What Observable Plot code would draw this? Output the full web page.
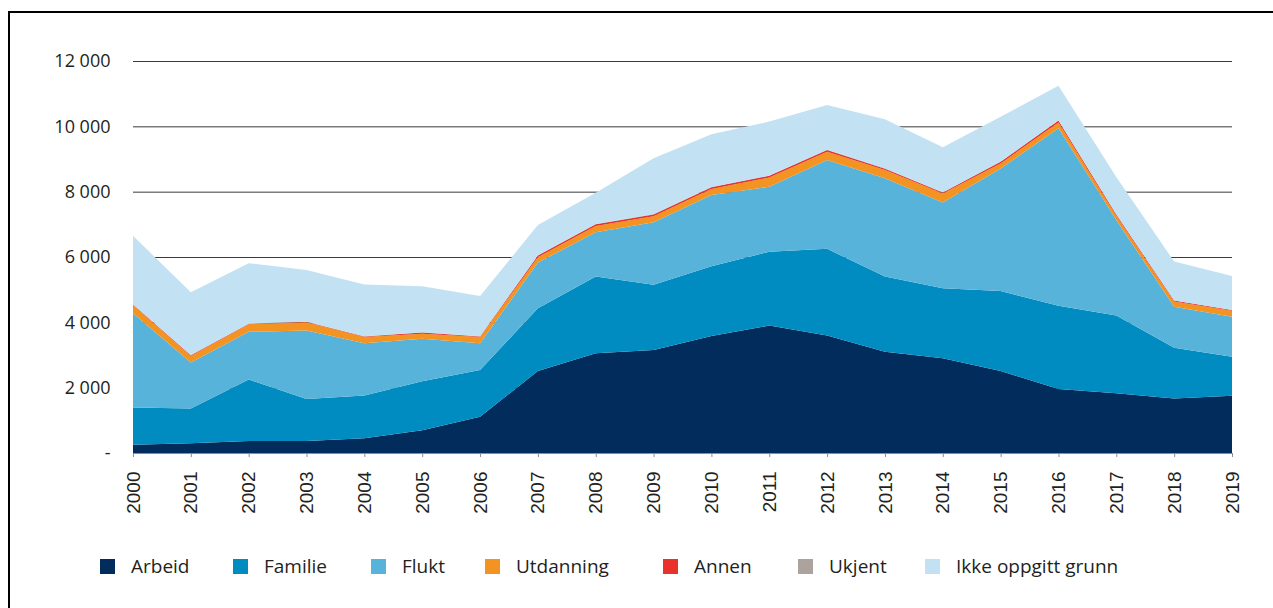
<!DOCTYPE html>
<html>
<head>
<meta charset="utf-8">
<script src="https://cdn.jsdelivr.net/npm/d3@7"></script>
<script src="https://cdn.jsdelivr.net/npm/@observablehq/plot@0.6"></script>
<style>
  html, body { margin: 0; padding: 0; background: #fff; }
  body { width: 1273px; height: 608px; overflow: hidden; position: relative; font-family: "Open Sans", sans-serif; color: #231f20; }
  #frame { position: absolute; left: 8px; top: 11px; width: 1320px; height: 700px; border: 2px solid #000; box-sizing: border-box; pointer-events: none; }
  #chart { position: absolute; left: 0; top: 0; }
  #legend { position: absolute; left: 100px; top: 553px; display: flex; align-items: center; font-size: 19px; }
  .item { display: flex; align-items: center; flex: none; white-space: nowrap; }
  .sw { width: 15px; height: 15px; margin-right: 16px; flex: none; }
</style>
</head>
<body>
<div id="chart"></div>
<div id="legend"></div>
<div id="frame"></div>
<script>
const years = [2000,2001,2002,2003,2004,2005,2006,2007,2008,2009,2010,2011,2012,2013,2014,2015,2016,2017,2018,2019];
const seriesNames = ["Arbeid","Familie","Flukt","Utdanning","Annen","Ukjent","Ikke oppgitt grunn"];
const seriesColors = ["#012c5b","#008bc1","#57b3da","#f39322","#e8322b","#aca39f","#c2e2f4"];
const arbeid    = [250, 300, 370, 370, 450, 700, 1110, 2510, 3050, 3150, 3580, 3900, 3600, 3100, 2900, 2510, 1960, 1830, 1670, 1750];
const familie   = [1140, 1060, 1880, 1280, 1310, 1500, 1430, 1920, 2350, 2000, 2140, 2260, 2650, 2300, 2140, 2450, 2550, 2380, 1550, 1200];
const flukt     = [2890, 1410, 1460, 2100, 1600, 1300, 820, 1400, 1360, 1910, 2180, 1990, 2720, 3010, 2630, 3750, 5430, 2920, 1260, 1220];
const utdanning = [250, 200, 230, 250, 190, 150, 190, 165, 190, 190, 185, 285, 255, 255, 275, 155, 175, 130, 155, 185];
const annen     = [15, 25, 15, 15, 20, 40, 20, 50, 50, 50, 50, 50, 50, 40, 30, 50, 60, 40, 30, 20];
const ukjent    = [5, 5, 5, 5, 5, 5, 5, 10, 10, 15, 10, 10, 10, 10, 5, 5, 5, 5, 5, 5];
const ikke      = [2100, 1920, 1850, 1580, 1580, 1410, 1230, 925, 960, 1705, 1610, 1650, 1370, 1500, 1380, 1375, 1060, 1145, 1190, 1040];
const yTicks = [0, 2000, 4000, 6000, 8000, 10000, 12000];

// legend layout (style only): width of each legend slot in px
const legendSlotWidths = [133, 138, 114, 178, 135, 127, 220];

const seriesValues = [arbeid, familie, flukt, utdanning, annen, ukjent, ikke];
const long = [];
seriesNames.forEach((s, i) => years.forEach((y, j) => long.push({year: y, series: s, value: seriesValues[i][j]})));

const fmt = d => d === 0 ? "-" : d3.format(",")(d).replace(/,/g, " ");

const chart = Plot.plot({
  width: 1273,
  height: 513,
  marginLeft: 133,
  marginRight: 41,
  marginTop: 61,
  marginBottom: 60,
  style: {background: "transparent", overflow: "visible"},
  x: {type: "linear", domain: [2000, 2019]},
  y: {domain: [0, 12000]},
  color: {domain: seriesNames, range: seriesColors},
  marks: [
    Plot.gridY(yTicks.filter(d => d > 0), {stroke: "#3a3a3a", strokeOpacity: 1, strokeWidth: 1}),
    Plot.areaY(long, {x: "year", y: "value", z: "series", fill: "series", curve: "linear"}),
    Plot.ruleY([0], {stroke: "#8c8c8c", strokeWidth: 1.2}),
    Plot.axisX({ticks: years, tickFormat: d => String(d), tickRotate: -90, tickSize: 4, tickPadding: 14,
      label: null, stroke: "#8c8c8c", fill: "#231f20", fontSize: 19, fontFamily: "Liberation Sans"}),
    Plot.axisY({ticks: yTicks, tickFormat: fmt, tickSize: 0, tickPadding: 23, label: null,
      fill: "#231f20", fontSize: 18, fontFamily: "Open Sans"})
  ]
});
document.getElementById("chart").appendChild(chart);

const legend = document.getElementById("legend");
seriesNames.forEach((s, i) => {
  const it = document.createElement("div");
  it.className = "item";
  it.style.width = legendSlotWidths[i] + "px";
  const sw = document.createElement("span");
  sw.className = "sw";
  sw.style.background = seriesColors[i];
  const t = document.createElement("span");
  t.textContent = s;
  it.appendChild(sw); it.appendChild(t);
  legend.appendChild(it);
});
</script>
</body>
</html>
